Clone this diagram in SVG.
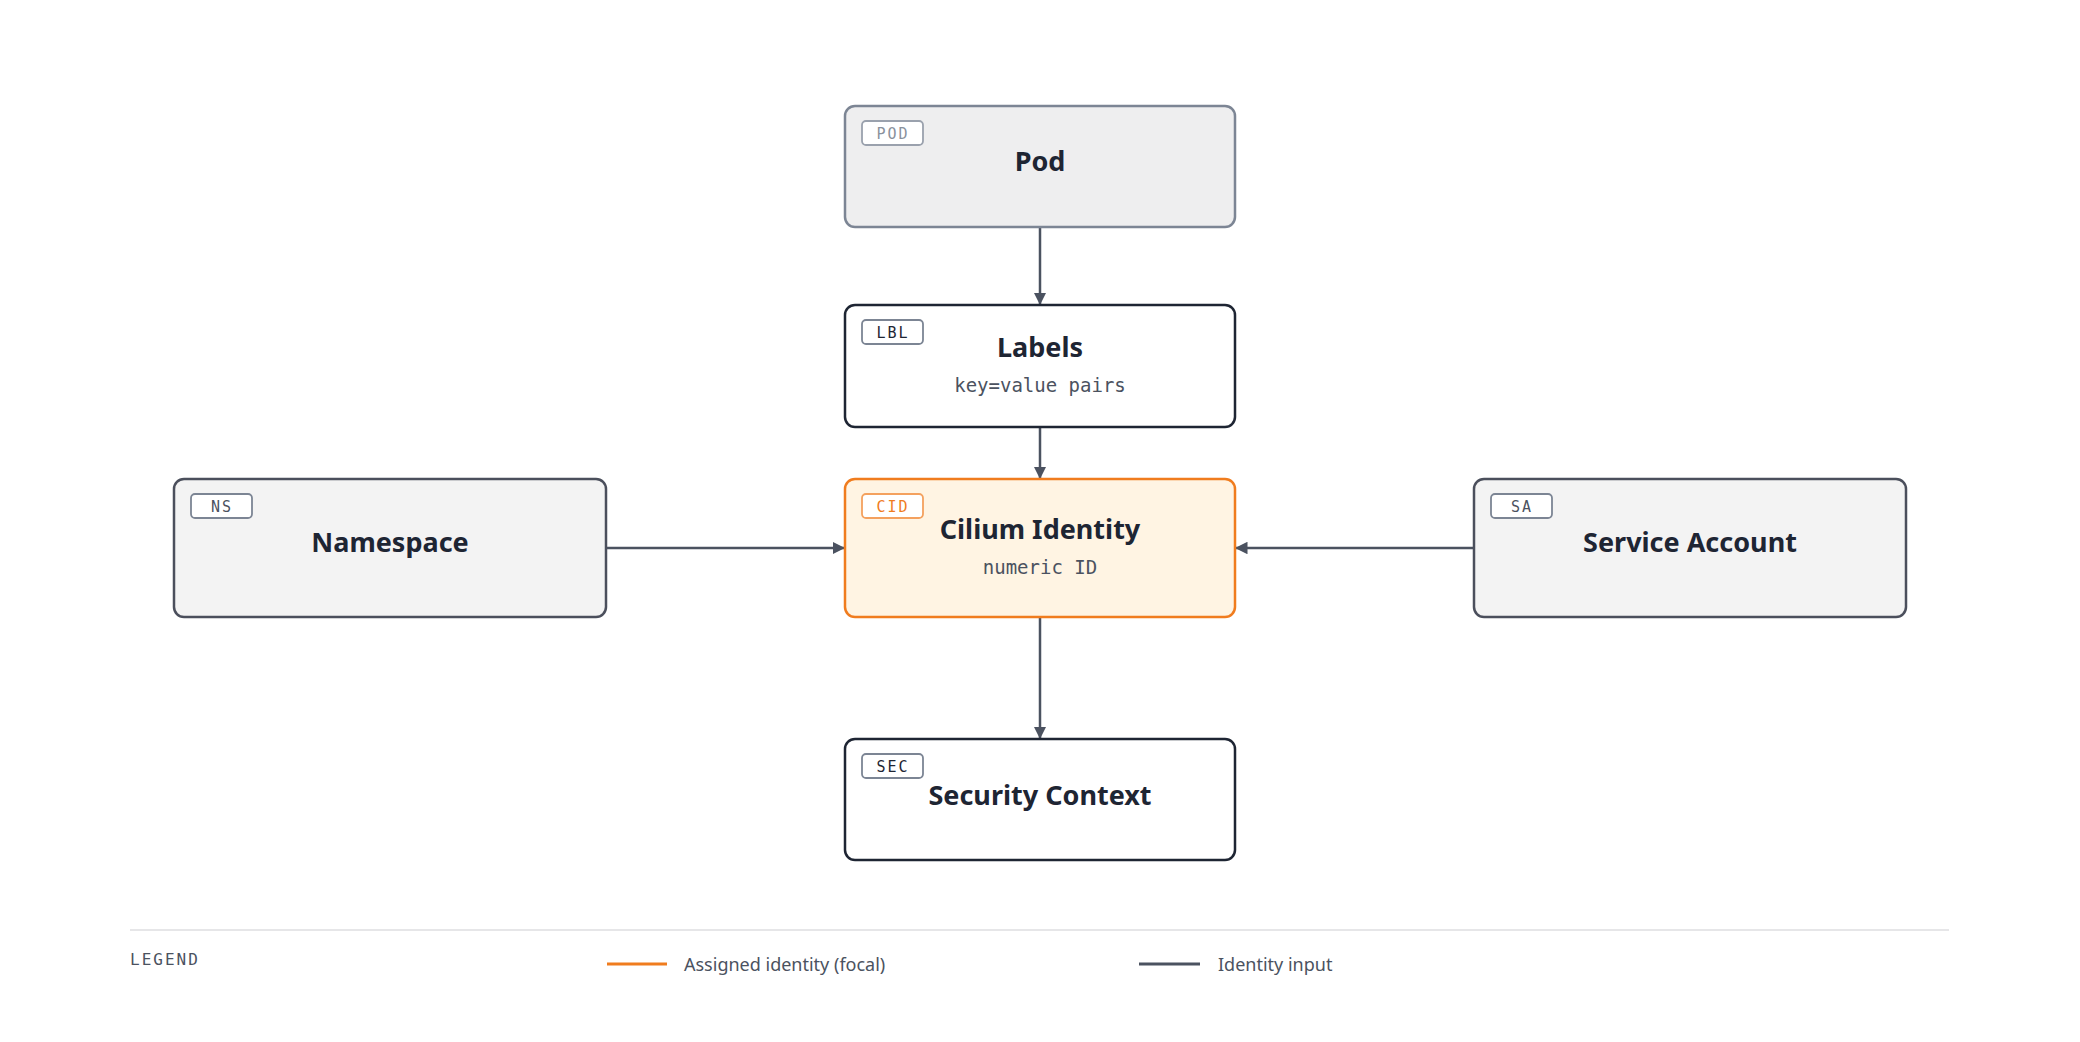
<svg xmlns="http://www.w3.org/2000/svg" width="2080" height="1042" viewBox="0 0 2080 1042">
<style>
.box{stroke-width:2.5}
.t{font-family:"Noto Sans","Open Sans",sans-serif;font-weight:700;font-size:27px;fill:#1e2533;text-anchor:middle}
.s{font-family:"DejaVu Sans Mono","Liberation Mono",monospace;font-size:19px;fill:#4b5260;text-anchor:middle}
.b{font-family:"DejaVu Sans Mono","Liberation Mono",monospace;font-size:15px;text-anchor:middle;letter-spacing:2px}
.bd{fill:#fff;stroke-width:1.8}
.c{stroke:#4b5260;stroke-width:2.5;fill:none;marker-end:url(#a)}
.l{font-family:"Noto Sans","Open Sans",sans-serif;font-size:18px;fill:#4b5260}
</style>
<defs><marker id="a" viewBox="0 0 10 10" refX="10" refY="5" markerWidth="5" markerHeight="5" orient="auto"><path d="M0,0L10,5L0,10z" fill="#4b5260"/></marker></defs>
<rect width="2080" height="1042" fill="#fff"/>
<g id="connectors">
<path class="c" d="M1040,227V305"/>
<path class="c" d="M1040,427V479"/>
<path class="c" d="M606,548H845"/>
<path class="c" d="M1474,548H1235"/>
<path class="c" d="M1040,617V739"/>
</g>
<g id="pod"><rect class="box" x="845" y="106" width="390" height="121" rx="10" fill="#eeeeef" stroke="#7c8594"/>
<rect class="bd" x="862" y="121" width="61" height="24" rx="4" stroke="#9aa1ad" fill="#f6f6f7"/><text class="b" x="893" y="139" fill="#8a919c">POD</text>
<text class="t" x="1040" y="171">Pod</text></g>
<g id="labels"><rect class="box" x="845" y="305" width="390" height="122" rx="10" fill="#fff" stroke="#1e2533"/>
<rect class="bd" x="862" y="320" width="61" height="24" rx="4" stroke="#7c8594"/><text class="b" x="893" y="338" fill="#1e2533">LBL</text>
<text class="t" x="1040" y="357">Labels</text><text class="s" x="1040" y="392">key=value pairs</text></g>
<g id="cid"><rect class="box" x="845" y="479" width="390" height="138" rx="10" fill="#fff4e3" stroke="#f07c1e"/>
<rect class="bd" x="862" y="494" width="61" height="24" rx="4" stroke="#f4a15e" fill="#fff4e3"/><text class="b" x="893" y="512" fill="#f07c1e">CID</text>
<text class="t" x="1040" y="539">Cilium Identity</text><text class="s" x="1040" y="574">numeric ID</text></g>
<g id="ns"><rect class="box" x="174" y="479" width="432" height="138" rx="10" fill="#f3f3f3" stroke="#4b4f5c"/>
<rect class="bd" x="191" y="494" width="61" height="24" rx="4" stroke="#7c8594"/><text class="b" x="222" y="512" fill="#4b5260">NS</text>
<text class="t" x="390" y="552">Namespace</text></g>
<g id="sa"><rect class="box" x="1474" y="479" width="432" height="138" rx="10" fill="#f3f3f3" stroke="#4b4f5c"/>
<rect class="bd" x="1491" y="494" width="61" height="24" rx="4" stroke="#7c8594"/><text class="b" x="1522" y="512" fill="#4b5260">SA</text>
<text class="t" x="1690" y="552">Service Account</text></g>
<g id="sec"><rect class="box" x="845" y="739" width="390" height="121" rx="10" fill="#fff" stroke="#1e2533"/>
<rect class="bd" x="862" y="754" width="61" height="24" rx="4" stroke="#7c8594"/><text class="b" x="893" y="772" fill="#1e2533">SEC</text>
<text class="t" x="1040" y="805">Security Context</text></g>
<g id="legend">
<line x1="130" y1="930" x2="1949" y2="930" stroke="#e6e6e8" stroke-width="2"/>
<text x="130" y="965" font-family="DejaVu Sans Mono,monospace" font-size="16" fill="#4b5260" letter-spacing="2">LEGEND</text>
<line x1="607" y1="964" x2="667" y2="964" stroke="#f07c1e" stroke-width="3"/>
<text class="l" x="684" y="971">Assigned identity (focal)</text>
<line x1="1139" y1="964" x2="1200" y2="964" stroke="#4b5260" stroke-width="3"/>
<text class="l" x="1218" y="971">Identity input</text>
</g>
</svg>
